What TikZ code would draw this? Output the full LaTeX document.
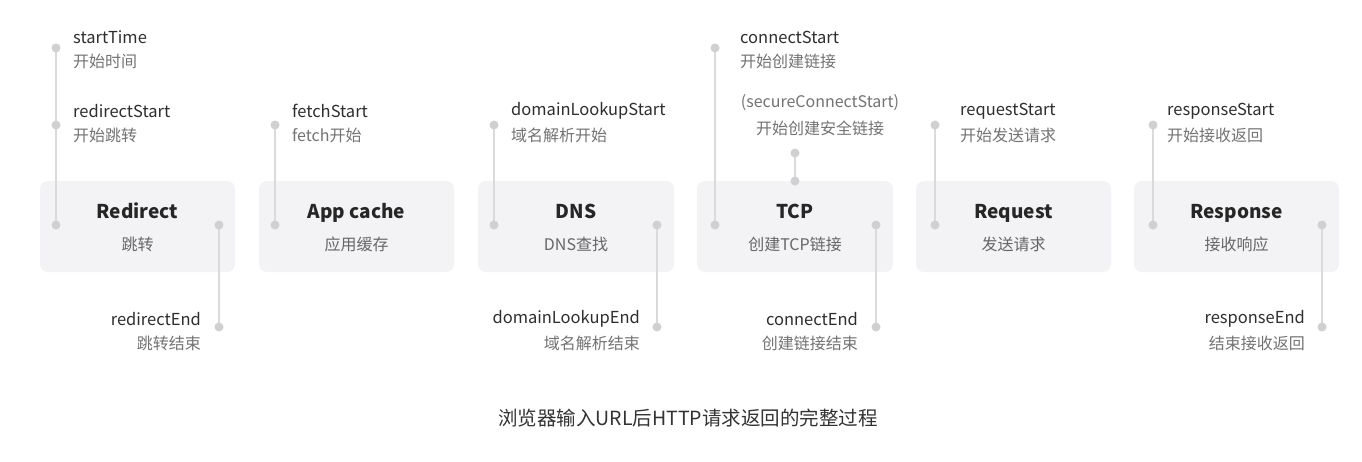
\documentclass[tikz,border=0pt]{standalone}
\usepackage{fontspec}
\setmainfont{Noto Sans CJK SC}
\begin{document}
\begin{tikzpicture}[x=1pt,y=-1pt,
  box/.style={fill=boxc,rounded corners=8pt,minimum width=195pt,minimum height=91pt,inner sep=0pt},
  ttl/.style={font=\fontsize{19}{21}\selectfont\bfseries,text=black!85,anchor=base,inner sep=0pt},
  sub/.style={font=\fontsize{16}{18}\selectfont,text=black!60,anchor=base,inner sep=0pt},
  en/.style={font=\fontsize{16.5}{18}\selectfont,text=black!82,inner sep=0pt},
  zh/.style={font=\fontsize{16}{18}\selectfont,text=black!55,inner sep=0pt},
  ln/.style={draw=linec,line width=1.6pt},
  dot/.style={circle,fill=dotc,minimum size=9pt,inner sep=0pt}]
\definecolor{boxc}{HTML}{F3F3F6}
\definecolor{linec}{HTML}{DADADA}
\definecolor{dotc}{HTML}{D0D0D2}
\useasboundingbox (0,0) rectangle (1362,461);
\fill[white] (0,0) rectangle (1362,461);
% boxes
\foreach \n/\x/\w/\t/\s in {b1/137.5/195/Redirect/跳转, b2/356.5/195/App cache/应用缓存, b3/576/196/DNS/DNS查找, b4/795/196/TCP/创建TCP链接, b5/1013.5/195/Request/发送请求, b6/1236.5/205/Response/接收响应}{
  \node[box,minimum width=\w pt] (\n) at (\x,226.5) {};
  \node[ttl] (\n t) at (\x,218) {\t};
  \node[sub] (\n s) at (\x,250) {\s};
}
% dots
\foreach \n/\x/\y in {d1/56/48, d2/56/125, d3/56/225, d4/219/225, d5/219/327,
  d6/275/125, d7/275/225, d8/494/125, d9/494/225, d10/657/225, d11/657/327,
  d12/715/48, d13/715/225, d14/795/153, d15/795/181, d16/876/225, d17/876/327,
  d18/935/125, d19/935/225, d20/1153/125, d21/1153/225, d22/1322/225, d23/1322/327}{
  \coordinate (\n) at (\x,\y);
}
\foreach \a/\b in {d1/d3, d4/d5, d6/d7, d8/d9, d10/d11, d12/d13, d14/d15, d16/d17, d18/d19, d20/d21, d22/d23}{
  \draw[ln] (\a) -- (\b);
}
\foreach \n in {d1,d2,d3,d4,d5,d6,d7,d8,d9,d10,d11,d12,d13,d14,d15,d16,d17,d18,d19,d20,d21,d22,d23}{
  \node[dot] (\n c) at (\n) {};
}
% left-anchored labels
\foreach \n/\x/\y/\e/\z in {l1/73/37/startTime/开始时间, l2/73/111/redirectStart/开始跳转, l3/292/111/fetchStart/fetch开始,
  l4/511/111/domainLookupStart/域名解析开始, l5/740/37/connectStart/开始创建链接, l6/960/111/requestStart/开始发送请求,
  l7/1167/111/responseStart/开始接收返回}{
  \node[en,anchor=west] (\n e) at (\x,\y) {\e};
  \node[zh,anchor=west] (\n z) at (\x,\y+24) {\z};
}
% right-anchored labels
\foreach \n/\x/\e/\z in {r1/201/redirectEnd/跳转结束, r2/640/domainLookupEnd/域名解析结束, r3/858/connectEnd/创建链接结束, r4/1305/responseEnd/结束接收返回}{
  \node[en,anchor=east] (\n e) at (\x,319) {\e};
  \node[zh,anchor=east] (\n z) at (\x,343) {\z};
}
\node[zh] (sc) at (820,103) {(secureConnectStart)};
\node[zh] (scz) at (820,128) {开始创建安全链接};
\node[font=\fontsize{19.5}{21}\selectfont,text=black!80] (cap) at (688,418) {浏览器输入URL后HTTP请求返回的完整过程};
\end{tikzpicture}
\end{document}
